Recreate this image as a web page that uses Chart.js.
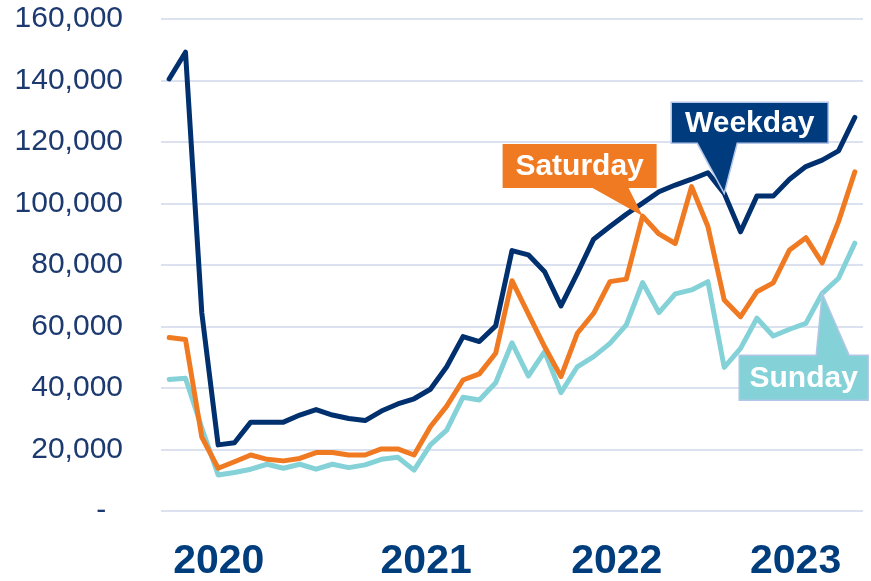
<!DOCTYPE html>
<html lang="en">
<head>
    <meta charset="UTF-8">
    <title>Weekday, Saturday and Sunday ridership</title>
    <script src="https://cdn.jsdelivr.net/npm/chart.js"></script>
    <style>
        body {
            margin: 0;
            background: #ffffff;
        }
        #wrap {
            width: 871px;
            height: 581px;
        }
    </style>
</head>
<body>
    <div id="wrap">
        <canvas id="ridership" width="871" height="581"></canvas>
    </div>

    <script>
        // Months, Jan 2020 - Jul 2023
        var months = [
            '2020-01', '2020-02', '2020-03', '2020-04', '2020-05', '2020-06', '2020-07', '2020-08', '2020-09', '2020-10', '2020-11', '2020-12',
            '2021-01', '2021-02', '2021-03', '2021-04', '2021-05', '2021-06', '2021-07', '2021-08', '2021-09', '2021-10', '2021-11', '2021-12',
            '2022-01', '2022-02', '2022-03', '2022-04', '2022-05', '2022-06', '2022-07', '2022-08', '2022-09', '2022-10', '2022-11', '2022-12',
            '2023-01', '2023-02', '2023-03', '2023-04', '2023-05', '2023-06', '2023-07'
        ];

        var weekday = [
            140500, 149200, 64400, 21500, 22200, 28900, 28900, 28900, 31200, 33000, 31200, 30100,
            29400, 32500, 34800, 36500, 39600, 46900, 56700, 55100, 60200, 84700, 83300, 77800,
            66700, 77300, 88400, 92500, 96500, 100100, 103800, 106000, 107900, 110000, 103300, 90800,
            102400, 102400, 107900, 112000, 114100, 117100, 128000
        ];

        var saturday = [
            56400, 55800, 24000, 13900, 16000, 18200, 16800, 16300, 17100, 19000, 19000, 18200,
            18200, 20200, 20200, 18200, 27400, 34100, 42600, 44600, 51300, 74900, 64100, 53400,
            43700, 57800, 64300, 74600, 75400, 95900, 90100, 87000, 105500, 92500, 68600, 63200,
            71300, 74200, 84900, 88900, 80700, 94100, 110300
        ];

        var sunday = [
            42800, 43200, 27000, 11700, 12500, 13600, 15200, 13900, 15200, 13600, 15200, 14100,
            15000, 16800, 17500, 13300, 21500, 26300, 37000, 36100, 41700, 54700, 43900, 51800,
            38500, 46900, 50200, 54500, 60500, 74300, 64500, 70600, 71900, 74600, 46700, 52900,
            62700, 56900, 59100, 61000, 70800, 75700, 87100
        ];

        // year labels and where they sit on the month index axis
        var yearLabels = ['2020', '2021', '2022', '2023'];
        var yearTickPos = [3.04, 15.74, 27.42, 38.37];

        var yTicks = [0, 20000, 40000, 60000, 80000, 100000, 120000, 140000, 160000];

        function toPoints(values) {
            return values.map(function (v, i) { return { x: i, y: v }; });
        }

        // callout boxes, anchored on a data point (dataset, index), offsets in px from that point
        var callouts = [
            { text: 'Weekday', ds: 0, idx: 34, fill: '#003C7D', border: '#B4C6E7',
              dx: -53, dy: -91, w: 157, h: 41, baseL: -27, baseR: 13, side: 'bottom' },
            { text: 'Saturday', ds: 1, idx: 29, fill: '#F07A22', border: null,
              dx: -140, dy: -72, w: 154, h: 44, baseL: -50, baseR: -14, side: 'bottom' },
            { text: 'Sunday', ds: 2, idx: 40, fill: '#84D2D8', border: '#B4C6E7',
              dx: -83, dy: 62, w: 129, h: 45, baseL: -6, baseR: 27, side: 'top' }
        ];

        var calloutPlugin = {
            id: 'callouts',
            afterDatasetsDraw: function (chart) {
                var ctx = chart.ctx;
                var xs = chart.scales.x, ys = chart.scales.y;
                callouts.forEach(function (c) {
                    var src = chart.data.datasets[c.ds].data[c.idx];
                    var tx = xs.getPixelForValue(src.x);
                    var ty = ys.getPixelForValue(src.y);
                    var l = tx + c.dx, t = ty + c.dy, r = l + c.w, b = t + c.h;
                    ctx.save();
                    ctx.beginPath();
                    if (c.side === 'bottom') {
                        ctx.moveTo(l, t);
                        ctx.lineTo(r, t);
                        ctx.lineTo(r, b);
                        ctx.lineTo(tx + c.baseR, b);
                        ctx.lineTo(tx, ty);
                        ctx.lineTo(tx + c.baseL, b);
                        ctx.lineTo(l, b);
                    } else {
                        ctx.moveTo(l, t);
                        ctx.lineTo(tx + c.baseL, t);
                        ctx.lineTo(tx, ty);
                        ctx.lineTo(tx + c.baseR, t);
                        ctx.lineTo(r, t);
                        ctx.lineTo(r, b);
                        ctx.lineTo(l, b);
                    }
                    ctx.closePath();
                    ctx.fillStyle = c.fill;
                    ctx.fill();
                    if (c.border) {
                        ctx.strokeStyle = c.border;
                        ctx.lineWidth = 1.5;
                        ctx.stroke();
                    }
                    ctx.fillStyle = '#ffffff';
                    ctx.font = 'bold 30px "Liberation Sans", Arial, sans-serif';
                    ctx.textAlign = 'center';
                    ctx.textBaseline = 'middle';
                    ctx.fillText(c.text, (l + r) / 2, (t + b) / 2 + 1);
                    ctx.restore();
                });
            }
        };

        var lineStyle = {
            borderWidth: 5,
            pointRadius: 0,
            tension: 0,
            fill: false,
            borderJoinStyle: 'round',
            borderCapStyle: 'round'
        };

        var ctx = document.getElementById('ridership').getContext('2d');
        var ridershipChart = new Chart(ctx, {
            type: 'line',
            data: {
                datasets: [
                    Object.assign({ label: 'Weekday', data: toPoints(weekday), borderColor: '#00306E' }, lineStyle),
                    Object.assign({ label: 'Saturday', data: toPoints(saturday), borderColor: '#F07A22' }, lineStyle),
                    Object.assign({ label: 'Sunday', data: toPoints(sunday), borderColor: '#84D2D8' }, lineStyle)
                ]
            },
            options: {
                responsive: false,
                animation: false,
                layout: { padding: { left: 0, right: 8, top: 19, bottom: 0 } },
                plugins: {
                    legend: { display: false },
                    tooltip: { enabled: false }
                },
                scales: {
                    x: {
                        type: 'linear',
                        min: -0.5,
                        max: months.length - 0.5,
                        grid: { display: false, drawTicks: false },
                        border: { display: false },
                        afterBuildTicks: function (scale) {
                            scale.ticks = yearTickPos.map(function (p) { return { value: p }; });
                        },
                        afterFit: function (scale) {
                            scale.height = 70;
                            scale.paddingLeft = 0;
                            scale.paddingRight = 0;
                        },
                        ticks: {
                            autoSkip: false,
                            maxRotation: 0,
                            padding: 26,
                            color: '#003D7C',
                            font: { family: '"Liberation Sans", Arial, sans-serif', size: 41, weight: 'bold' },
                            callback: function (value, i) { return yearLabels[i]; }
                        }
                    },
                    y: {
                        min: 0,
                        max: 160000,
                        afterBuildTicks: function (scale) {
                            scale.ticks = yTicks.map(function (v) { return { value: v }; });
                        },
                        afterFit: function (scale) {
                            scale.width = 161;
                            scale.paddingTop = 0;
                            scale.paddingBottom = 0;
                        },
                        grid: { color: '#DCE1F0', lineWidth: 2, drawTicks: false },
                        border: { display: false },
                        ticks: {
                            padding: 38,
                            color: '#1C3A70',
                            font: { family: '"Liberation Sans", Arial, sans-serif', size: 30 },
                            callback: function (value) {
                                return value === 0 ? '-  ' : value.toLocaleString('en-US');
                            }
                        }
                    }
                }
            },
            plugins: [calloutPlugin]
        });
    </script>
</body>
</html>
